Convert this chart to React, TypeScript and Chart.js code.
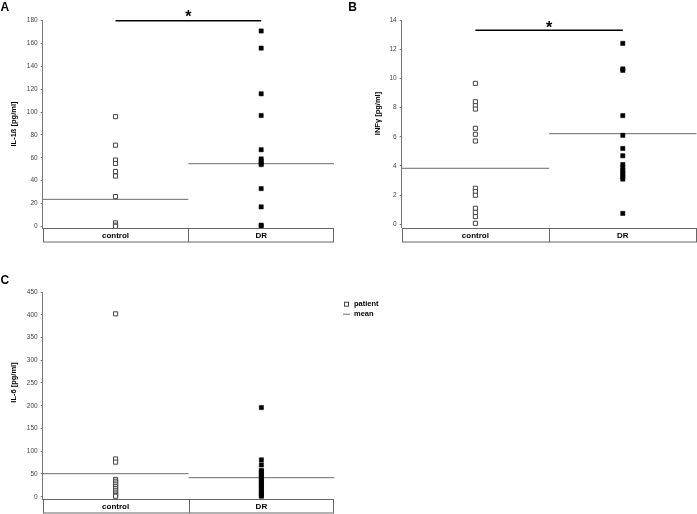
import React, { useEffect, useRef } from "react";
import { Chart, registerables } from "chart.js";

Chart.register(...registerables);

// ---------- data ----------
const categories = ["control", "DR"];

const il1bControl = [96, 71, 58, 55, 48, 44, 26, 3, 1, 0];
const il1bDR = [171, 156, 116, 97, 67, 59, 57, 55, 54, 33, 17, 1, 0];
const il1bMeans = [23.6, 54.8];
const il1bSig = 180;
const il1bTicks = [0, 20, 40, 60, 80, 100, 120, 140, 160, 180];

const infControl = [9.66, 8.4, 8.13, 7.9, 6.58, 6.17, 5.71, 2.47, 2.24, 1.99, 1.1, 0.82, 0.53, 0.07];
const infDR = [12.4, 10.65, 10.55, 7.45, 6.1, 5.2, 4.7, 4.1, 3.9, 3.7, 3.55, 3.4, 3.25, 3.1, 0.75];
const infMeans = [3.84, 6.21];
const infSig = 13.3;
const infTicks = [0, 2, 4, 6, 8, 10, 12, 14];

const il6Control = [402, 83, 76, 38, 34, 30, 26, 22, 18, 14, 10, 6, 3, 1];
const il6DR = [196, 81, 70, 58, 55, 51, 47, 43, 39, 35, 31, 27, 23, 19, 15, 11, 7, 3, 1];
const il6Means = [50.6, 41.8];
const il6Ticks = [0, 50, 100, 150, 200, 250, 300, 350, 400, 450];

const legendLabels = ["patient", "mean"];

// ---------- styling ----------
const FONT = "'Liberation Sans', Arial, Helvetica, sans-serif";
const AXIS_GRAY = "#777";
const MEAN_GRAY = "#6a6a6a";

const panelPlugin = {
  id: "panel",
  afterDraw(chart: any, _args: any, opts: any) {
    const { ctx, chartArea } = chart;
    const xs = chart.scales.x;
    const ys = chart.scales.y;
    ctx.save();

    // panel letter
    ctx.fillStyle = "#000";
    ctx.font = `bold 12px ${FONT}`;
    ctx.textAlign = "left";
    ctx.textBaseline = "alphabetic";
    ctx.fillText(opts.letter, opts.letterX, opts.letterY);

    // y title
    ctx.save();
    ctx.translate(opts.titleX, opts.titleY);
    ctx.rotate(-Math.PI / 2);
    ctx.font = `bold 7.5px ${FONT}`;
    ctx.textAlign = "center";
    ctx.textBaseline = "middle";
    ctx.fillText(opts.title, 0, 0);
    ctx.restore();

    // category box
    const L = Math.round(chartArea.left) + 0.5;
    const R = Math.round(chartArea.right) - 0.5;
    const T = Math.round(chartArea.bottom) + 0.5;
    const H = opts.boxH;
    ctx.strokeStyle = "#666";
    ctx.lineWidth = 1;
    ctx.strokeRect(L, T, R - L, H);
    ctx.beginPath();
    for (let i = 1; i < categories.length; i++) {
      const dx = Math.round(xs.getPixelForValue(i)) + 0.5;
      ctx.moveTo(dx, T);
      ctx.lineTo(dx, T + H);
    }
    ctx.stroke();
    ctx.fillStyle = "#000";
    ctx.font = `bold 8px ${FONT}`;
    ctx.textAlign = "center";
    ctx.textBaseline = "middle";
    categories.forEach((c, i) => {
      ctx.fillText(c, xs.getPixelForValue(i + 0.5), T + H / 2 + 0.5);
    });

    // significance asterisk
    if (opts.sig !== null && opts.sig !== undefined) {
      const xm = xs.getPixelForValue(categories.length / 2);
      const yb = ys.getPixelForValue(opts.sig);
      ctx.font = `bold 16px ${FONT}`;
      ctx.textAlign = "center";
      ctx.textBaseline = "alphabetic";
      ctx.fillText("*", xm, yb + opts.starDy);
    }

    // legend
    if (opts.legend) {
      const lx = opts.legendX;
      const ly = opts.legendY;
      ctx.strokeStyle = "#444";
      ctx.lineWidth = 1;
      ctx.fillStyle = "#fff";
      ctx.fillRect(lx - 2, ly - 2, 4, 4);
      ctx.strokeRect(lx - 2 + 0.5, ly - 2 + 0.5, 4, 4);
      ctx.strokeStyle = MEAN_GRAY;
      ctx.beginPath();
      ctx.moveTo(lx - 3, ly + 10.5);
      ctx.lineTo(lx + 4, ly + 10.5);
      ctx.stroke();
      ctx.fillStyle = "#000";
      ctx.font = `bold 7.5px ${FONT}`;
      ctx.textAlign = "left";
      ctx.textBaseline = "middle";
      ctx.fillText(legendLabels[0], lx + 8, ly + 0.5);
      ctx.fillText(legendLabels[1], lx + 8, ly + 10.5);
    }
    ctx.restore();
  },
};

type PanelSpec = {
  control: number[];
  dr: number[];
  means: number[];
  sig: number | null;
  ticks: number[];
  yMin: number;
  yMax: number;
  axisWidth: number;
  padTop: number;
  padBottom: number;
  padRight: number;
  plugin: any;
};

function buildConfig(p: PanelSpec): any {
  const datasets: any[] = [
    {
      data: p.dr.map((v) => ({ x: 1.5, y: v })),
      pointStyle: "rect",
      pointRadius: 3,
      backgroundColor: "#000",
      borderColor: "#000",
      borderWidth: 0.5,
      clip: false,
    },
    {
      data: p.control.map((v) => ({ x: 0.5, y: v })),
      pointStyle: "rect",
      pointRadius: 2.9,
      backgroundColor: "#fff",
      borderColor: "#444",
      borderWidth: 1,
      clip: false,
    },
    ...p.means.map((m, i) => ({
      data: [
        { x: i, y: m },
        { x: i + 1, y: m },
      ],
      showLine: true,
      pointRadius: 0,
      borderColor: MEAN_GRAY,
      borderWidth: 1,
      clip: false,
    })),
  ];
  if (p.sig !== null) {
    datasets.push({
      data: [
        { x: 0.5, y: p.sig },
        { x: 1.5, y: p.sig },
      ],
      showLine: true,
      pointRadius: 0,
      borderColor: "#000",
      borderWidth: 1.5,
      clip: false,
    });
  }
  return {
    type: "scatter",
    data: { datasets },
    plugins: [panelPlugin],
    options: {
      animation: false,
      responsive: false,
      maintainAspectRatio: false,
      devicePixelRatio: 1,
      events: [],
      layout: { autoPadding: false, padding: { left: 0, top: p.padTop, bottom: p.padBottom, right: p.padRight } },
      plugins: {
        legend: { display: false },
        tooltip: { enabled: false },
        panel: p.plugin,
      },
      scales: {
        x: { type: "linear", min: 0, max: categories.length, display: false },
        y: {
          type: "linear",
          min: p.yMin,
          max: p.yMax,
          afterFit: (s: any) => {
            s.width = p.axisWidth;
          },
          afterBuildTicks: (s: any) => {
            s.ticks = p.ticks.map((v) => ({ value: v }));
          },
          grid: { drawOnChartArea: false, tickLength: 2, color: AXIS_GRAY },
          border: { display: true, color: AXIS_GRAY },
          ticks: { padding: 3, color: "#444", font: { size: 6.5, family: FONT } },
        },
      },
    },
  };
}

function Panel(props: { left: number; top: number; width: number; height: number; spec: PanelSpec }) {
  const ref = useRef<HTMLCanvasElement>(null);
  useEffect(() => {
    const chart = new Chart(ref.current as HTMLCanvasElement, buildConfig(props.spec));
    return () => chart.destroy();
  }, []);
  return (
    <canvas
      ref={ref}
      width={props.width}
      height={props.height}
      style={{ position: "absolute", left: props.left, top: props.top, width: props.width, height: props.height }}
    />
  );
}

const specA: PanelSpec = {
  control: il1bControl,
  dr: il1bDR,
  means: il1bMeans,
  sig: il1bSig,
  ticks: il1bTicks,
  yMin: -1.5,
  yMax: 180,
  axisWidth: 42.7,
  padTop: 20.7,
  padBottom: 22,
  padRight: 6,
  plugin: {
    letter: "A", letterX: 0.5, letterY: 10.5,
    title: "IL-1ß [pg/ml]", titleX: 13.7, titleY: 124,
    boxH: 13.5, sig: il1bSig, starDy: 1.5, legend: false,
  },
};

const specB: PanelSpec = {
  control: infControl,
  dr: infDR,
  means: infMeans,
  sig: infSig,
  ticks: infTicks,
  yMin: -0.23,
  yMax: 14,
  axisWidth: 56.7,
  padTop: 20,
  padBottom: 22.3,
  padRight: 0.5,
  plugin: {
    letter: "B", letterX: 3.3, letterY: 11,
    title: "INFγ [pg/ml]", titleX: 32.5, titleY: 113.5,
    boxH: 13.5, sig: infSig, starDy: 2.5, legend: false,
  },
};

const specC: PanelSpec = {
  control: il6Control,
  dr: il6DR,
  means: il6Means,
  sig: null,
  ticks: il6Ticks,
  yMin: -5.7,
  yMax: 450,
  axisWidth: 42.7,
  padTop: 42,
  padBottom: 14.7,
  padRight: 362.7,
  plugin: {
    letter: "C", letterX: 0.5, letterY: 33.5,
    title: "IL-6 [pg/ml]", titleX: 13.5, titleY: 132.5,
    boxH: 13.5, sig: null, starDy: 0, legend: true, legendX: 346, legendY: 53.7,
  },
};

export default function App() {
  return (
    <div style={{ position: "fixed", left: 0, top: 0, width: 697, height: 514, background: "#fff", overflow: "hidden" }}>
      <Panel left={0} top={0} width={340} height={250} spec={specA} />
      <Panel left={345} top={0} width={352} height={250} spec={specB} />
      <Panel left={0} top={250} width={697} height={264} spec={specC} />
    </div>
  );
}
